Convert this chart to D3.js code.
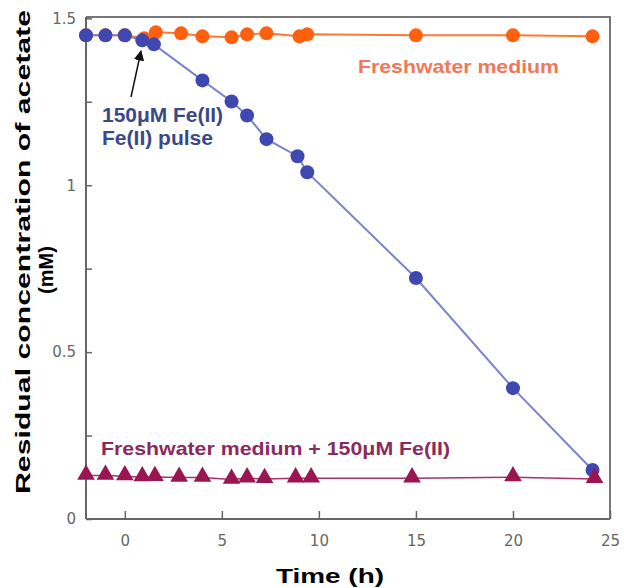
<!DOCTYPE html>
<html><head><meta charset="utf-8">
<script src="https://cdn.jsdelivr.net/npm/d3@7"></script>
<style>body{margin:0;background:#fff}</style>
</head><body>
<svg id="c" width="624" height="588"></svg>
<script>
// ---- data ----
const freshTime  = [-2, -1, 0, 1.0, 1.6, 2.9, 4.0, 5.5, 6.3, 7.3, 9.0, 9.4, 15.0, 20.0, 24.1];
const freshConc  = [1.449, 1.449, 1.449, 1.440, 1.458, 1.455, 1.446, 1.443, 1.452, 1.455, 1.446, 1.452, 1.449, 1.449, 1.446];
const pulseTime  = [-2, -1, 0, 0.9, 1.5, 4.0, 5.5, 6.3, 7.3, 8.9, 9.4, 15.0, 20.0, 24.1];
const pulseConc  = [1.449, 1.449, 1.449, 1.434, 1.422, 1.314, 1.251, 1.209, 1.138, 1.087, 1.039, 0.722, 0.392, 0.147];
const feTime     = [-2, -1, 0, 0.9, 1.55, 2.8, 4.0, 5.5, 6.3, 7.2, 8.8, 9.6, 14.8, 20.0, 24.2];
const feConc     = [0.130, 0.130, 0.128, 0.125, 0.126, 0.124, 0.124, 0.118, 0.122, 0.120, 0.122, 0.122, 0.122, 0.125, 0.120];
const xTicks = [0, 5, 10, 15, 20, 25];
const yTicks = [0, 0.5, 1, 1.5];
const yMinor = [0.25, 0.75, 1.25];

const svg = d3.select("#c");
const x = d3.scaleLinear().domain([-2, 25]).range([86, 610]);
const y = d3.scaleLinear().domain([0, 1.504]).range([519, 17]);

// frame (top/right)
svg.append("path")
  .attr("d", `M${x(-2)},${y(1.504)}H${x(25)}V${y(0)}`)
  .attr("fill", "none").attr("stroke", "#777").attr("stroke-width", 2);

// axes
const xAxis = d3.axisBottom(x).tickValues(xTicks).tickSize(-8).tickPadding(16).tickFormat(d3.format("d"));
const gx = svg.append("g").attr("transform", `translate(0,${y(0)})`).call(xAxis);
const yAxis = d3.axisLeft(y).tickValues(yTicks.concat(yMinor)).tickSize(-6).tickPadding(10)
  .tickFormat(d => yTicks.includes(d) ? d3.format("")(d) : "");
const gy = svg.append("g").attr("transform", `translate(${x(-2)},0)`).call(yAxis);
[gx, gy].forEach(g => {
  g.select(".domain").attr("stroke", "#666").attr("stroke-width", 2);
  g.selectAll(".tick line").attr("stroke", "#666").attr("stroke-width", 1.5);
  g.selectAll(".tick text").attr("fill", "#666").attr("font-family", "DejaVu Sans, sans-serif").attr("font-size", 15);
});
gy.select(".domain").attr("d", `M0,${y(0)}V${y(1.504)}`);
gx.select(".domain").attr("d", `M${x(-2)},0H${x(25)}`);

// lines & marks
const line = d3.line().x(d => x(d[0])).y(d => y(d[1]));
const fresh = freshTime.map((t, i) => [t, freshConc[i]]);
const pulse = pulseTime.map((t, i) => [t, pulseConc[i]]);
const fe = feTime.map((t, i) => [t, feConc[i]]);

svg.append("path").datum(fe).attr("d", line).attr("fill", "none").attr("stroke", "#a8336a").attr("stroke-width", 1.5);
svg.append("path").datum(fresh).attr("d", line).attr("fill", "none").attr("stroke", "#ff7a30").attr("stroke-width", 2);
svg.selectAll(".fr").data(fresh).join("circle")
  .attr("cx", d => x(d[0])).attr("cy", d => y(d[1])).attr("r", 7).attr("fill", "#ff6010");
svg.append("path").datum(pulse).attr("d", line).attr("fill", "none").attr("stroke", "#7a83cc").attr("stroke-width", 2);
svg.selectAll(".pu").data(pulse).join("circle")
  .attr("cx", d => x(d[0])).attr("cy", d => y(d[1])).attr("r", 7).attr("fill", "#3f48b0");
svg.selectAll(".fe").data(fe).join("path")
  .attr("transform", d => `translate(${x(d[0])},${y(d[1]) - 1})`)
  .attr("d", d3.symbol(d3.symbolTriangle, 135)).attr("fill", "#9a1653");

// annotations
const lab = (t, xx, yy, col, w, fs) => svg.append("text").text(t).attr("x", xx).attr("y", yy)
  .attr("fill", col).attr("font-family", "Liberation Sans, Arial, sans-serif").attr("font-weight", "bold")
  .attr("font-size", fs).attr("textLength", w).attr("lengthAdjust", "spacingAndGlyphs");
lab("Freshwater medium", 358, 73, "#f07858", 201, 19);
lab("150\u03bcM Fe(II)", 102, 122, "#3a4888", 121, 20);
lab("Fe(II) pulse", 102, 145, "#3a4888", 111, 20);
lab("Freshwater medium + 150\u03bcM Fe(II)", 101, 455, "#8b2a5c", 349, 19);

// arrow
svg.append("defs").append("marker").attr("id", "ah").attr("viewBox", "0 0 10 10")
  .attr("refX", 9).attr("refY", 5).attr("markerWidth", 7).attr("markerHeight", 7).attr("orient", "auto")
  .append("path").attr("d", "M0,0L10,5L0,10z").attr("fill", "#111");
svg.append("line").attr("x1", 131).attr("y1", 97).attr("x2", 141).attr("y2", 51)
  .attr("stroke", "#111").attr("stroke-width", 1.5).attr("marker-end", "url(#ah)");

// axis titles
svg.append("text").text("Time (h)").attr("x", 330).attr("y", 583).attr("text-anchor", "middle")
  .attr("font-family", "Liberation Sans, Arial, sans-serif").attr("font-weight", "bold").attr("font-size", 20)
  .attr("textLength", 108).attr("lengthAdjust", "spacingAndGlyphs").attr("fill", "#000");
const yt = svg.append("g").attr("transform", "translate(30,252) rotate(-90)");
yt.append("text").text("Residual concentration of acetate").attr("text-anchor", "middle")
  .attr("font-family", "Liberation Sans, Arial, sans-serif").attr("font-weight", "bold").attr("font-size", 21)
  .attr("textLength", 484).attr("lengthAdjust", "spacingAndGlyphs");
yt.append("text").text("(mM)").attr("x", -18).attr("y", 23).attr("text-anchor", "middle")
  .attr("font-family", "Liberation Sans, Arial, sans-serif").attr("font-weight", "bold").attr("font-size", 20);
</script>
</body></html>
